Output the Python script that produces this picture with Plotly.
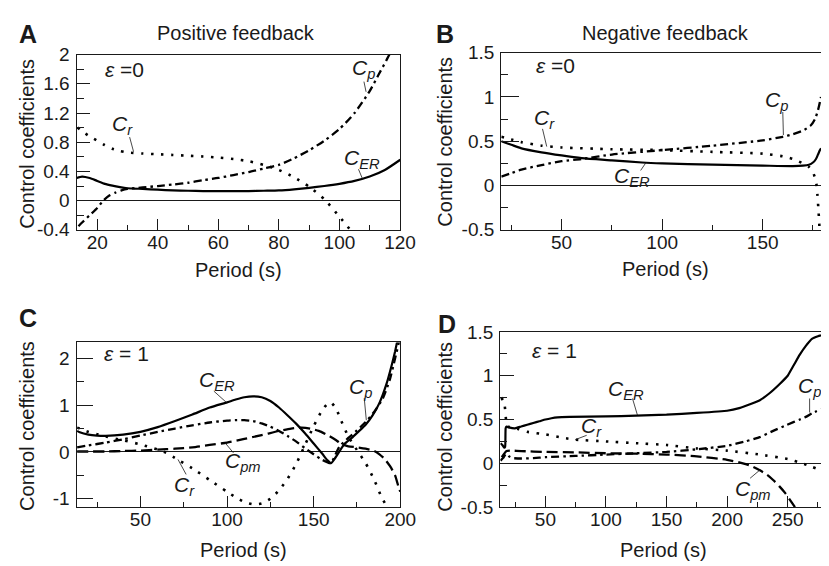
import plotly.graph_objects as go

W, H = 829, 566
FONT = "Liberation Sans, Arial, Helvetica, sans-serif"
INK = "#1a1a1a"

# ---------------- data ----------------
# Panel A: positive feedback, eps = 0
a_er_x = [13.2, 15, 17.5, 20, 22.5, 25, 27.5, 30, 35, 40, 45, 50, 55, 60, 65, 70, 75, 80, 85, 90, 95, 100, 105, 110, 115, 120.1]
a_er_y = [0.31, 0.33, 0.31, 0.27, 0.23, 0.205, 0.185, 0.17, 0.16, 0.15, 0.14, 0.135, 0.13, 0.13, 0.13, 0.13, 0.135, 0.14, 0.155, 0.175, 0.2, 0.23, 0.27, 0.33, 0.42, 0.56]
a_p_x = [13.8, 15, 17.5, 20, 22, 24, 26, 28, 30, 35, 40, 45, 50, 55, 60, 65, 70, 75, 80, 85, 90, 95, 100, 105, 110, 113, 116.5, 117.5]
a_p_y = [-0.35, -0.3, -0.2, -0.1, 0.0, 0.07, 0.11, 0.14, 0.16, 0.18, 0.2, 0.22, 0.245, 0.28, 0.31, 0.35, 0.39, 0.44, 0.49, 0.58, 0.69, 0.82, 0.98, 1.2, 1.5, 1.73, 2.0, 2.1]
a_r_x = [13.5, 15, 17.5, 20, 22.5, 25, 27.5, 30, 35, 40, 45, 50, 55, 60, 65, 70, 75, 80, 85, 90, 95, 100, 104]
a_r_y = [1.0, 0.95, 0.88, 0.82, 0.76, 0.71, 0.68, 0.66, 0.645, 0.635, 0.625, 0.615, 0.605, 0.59, 0.57, 0.54, 0.49, 0.42, 0.32, 0.19, 0.02, -0.22, -0.42]

# Panel B: negative feedback, eps = 0
b_er_x = [20, 25, 30, 40, 50, 60, 75, 90, 100, 125, 150, 165, 170, 173, 175, 176.5, 177.5, 178.5, 179]
b_er_y = [0.5, 0.46, 0.42, 0.375, 0.34, 0.31, 0.285, 0.26, 0.25, 0.235, 0.225, 0.22, 0.225, 0.235, 0.26, 0.3, 0.35, 0.4, 0.42]
b_p_x = [20, 25, 30, 40, 50, 60, 75, 100, 125, 150, 160, 165, 170, 174, 176, 177.5, 179]
b_p_y = [0.1, 0.14, 0.18, 0.23, 0.275, 0.30, 0.35, 0.4, 0.45, 0.51, 0.55, 0.58, 0.62, 0.68, 0.75, 0.85, 1.0]
b_r_x = [20, 25, 30, 40, 50, 75, 100, 125, 150, 160, 165, 170, 173, 175, 176.5, 177.2, 177.8, 178.3]
b_r_y = [0.55, 0.52, 0.49, 0.45, 0.43, 0.41, 0.4, 0.38, 0.36, 0.33, 0.30, 0.25, 0.21, 0.15, 0.05, -0.1, -0.3, -0.5]

# Panel C: positive feedback, eps = 1
c_er_x = [13.5, 15, 20, 25, 30, 40, 50, 60, 70, 80, 90, 100, 105, 110, 115, 120, 125, 130, 135, 140, 145, 150, 155, 158, 160, 162, 165, 168, 172, 176, 180, 184, 188, 192, 195, 197, 199, 200]
c_er_y = [0.45, 0.42, 0.37, 0.35, 0.345, 0.37, 0.43, 0.53, 0.66, 0.8, 0.95, 1.06, 1.12, 1.17, 1.19, 1.17, 1.09, 0.95, 0.78, 0.6, 0.4, 0.18, -0.04, -0.18, -0.24, -0.15, 0.02, 0.18, 0.3, 0.44, 0.58, 0.78, 1.05, 1.45, 1.85, 2.15, 2.5, 2.7]
c_p_x = [13.5, 20, 30, 40, 50, 60, 70, 80, 90, 100, 105, 110, 115, 120, 125, 130, 135, 140, 145, 150, 155, 160, 162, 165, 170, 175, 180, 185, 190, 194, 197, 199.5, 200]
c_p_y = [0.1, 0.14, 0.2, 0.27, 0.35, 0.43, 0.5, 0.57, 0.63, 0.67, 0.68, 0.68, 0.66, 0.61, 0.54, 0.45, 0.34, 0.22, 0.08, -0.05, -0.17, -0.24, -0.1, 0.12, 0.3, 0.46, 0.64, 0.86, 1.15, 1.55, 2.0, 2.4, 2.6]
c_pm_x = [13.5, 20, 30, 40, 50, 60, 70, 80, 90, 100, 110, 120, 130, 137, 143, 148, 153, 157, 160, 163, 166, 170, 175, 180, 185, 188, 191, 194, 197, 199, 200]
c_pm_y = [0.01, 0.01, 0.01, 0.02, 0.03, 0.05, 0.07, 0.1, 0.15, 0.2, 0.28, 0.36, 0.45, 0.5, 0.52, 0.5, 0.45, 0.38, 0.32, 0.25, 0.17, 0.12, 0.1, 0.07, 0.02, -0.05, -0.15, -0.3, -0.5, -0.75, -0.85]
c_r_x = [13.5, 15, 20, 25, 30, 40, 50, 60, 65, 70, 80, 90, 100, 105, 110, 115, 120, 125, 130, 135, 140, 145, 150, 155, 158, 160, 163, 166, 170, 175, 180, 185, 189, 192, 194]
c_r_y = [0.52, 0.5, 0.43, 0.38, 0.33, 0.25, 0.16, 0.05, -0.02, -0.13, -0.35, -0.6, -0.85, -0.97, -1.07, -1.12, -1.1, -1.0, -0.82, -0.57, -0.25, 0.15, 0.55, 0.9, 1.03, 1.06, 0.92, 0.66, 0.33, 0.04, -0.24, -0.6, -0.95, -1.15, -1.25]

# Panel D: negative feedback, eps = 1
d_er_x = [13, 14.5, 16, 16.8, 17.2, 18, 20, 25, 30, 35, 40, 45, 50, 55, 60, 70, 100, 125, 150, 175, 200, 210, 220, 227, 235, 243, 250, 255, 260, 265, 270, 275, 277.5]
d_er_y = [0.23, 0.21, 0.18, 0.19, 0.40, 0.42, 0.41, 0.40, 0.42, 0.44, 0.46, 0.48, 0.5, 0.515, 0.525, 0.53, 0.535, 0.545, 0.555, 0.575, 0.6, 0.63, 0.68, 0.72, 0.8, 0.9, 1.0, 1.12, 1.24, 1.34, 1.42, 1.45, 1.46]
d_p_x = [13, 15, 17, 18, 20, 23, 30, 40, 50, 75, 100, 125, 150, 175, 200, 215, 227, 238, 249.5, 260, 265, 270, 277.5]
d_p_y = [0.03, 0.06, 0.1, 0.11, 0.08, 0.06, 0.055, 0.06, 0.07, 0.085, 0.1, 0.115, 0.13, 0.16, 0.2, 0.25, 0.3, 0.37, 0.44, 0.5, 0.53, 0.57, 0.62]
d_pm_x = [14, 16, 18, 22, 30, 50, 75, 100, 125, 150, 175, 200, 213, 220, 227, 233, 238, 243, 248, 252, 256]
d_pm_y = [0.07, 0.11, 0.14, 0.145, 0.14, 0.13, 0.125, 0.115, 0.11, 0.1, 0.08, 0.04, 0.0, -0.03, -0.08, -0.13, -0.19, -0.26, -0.34, -0.42, -0.5]
d_r_x = [13.5, 15, 16.5, 17.5, 18.5, 22, 28, 35, 50, 65, 75, 100, 125, 150, 175, 200, 227, 250, 262, 270, 277.5]
d_r_y = [0.75, 0.72, 0.65, 0.5, 0.42, 0.41, 0.39, 0.36, 0.33, 0.29, 0.27, 0.25, 0.23, 0.21, 0.17, 0.145, 0.1, 0.05, 0.0, -0.04, -0.08]

# tick labels
a_xticks = [20, 40, 60, 80, 100, 120]
a_yticks = [-0.4, 0, 0.4, 0.8, 1.2, 1.6, 2]
a_ylabels = ["-0.4", "0", "0.4", "0.8", "1.2", "1.6", "2"]
b_xticks = [50, 100, 150]
b_yticks = [-0.5, 0, 0.5, 1, 1.5]
b_ylabels = ["-0.5", "0", "0.5", "1", "1.5"]
c_xticks = [50, 100, 150, 200]
c_yticks = [-1, 0, 1, 2]
c_ylabels = ["-1", "0", "1", "2"]
d_xticks = [50, 100, 150, 200, 250]
d_yticks = [-0.5, 0, 0.5, 1, 1.5]
d_ylabels = ["-0.5", "0", "0.5", "1", "1.5"]

# ---------------- styles ----------------
SOLID = dict(color="black", width=2.2, dash="solid")
DASHDOT = dict(color="black", width=2.3, dash="8px,4px,2.5px,4px")
DOT = dict(color="black", width=2.6, dash="2.5px,7.5px")
DASH = dict(color="black", width=2.3, dash="11px,5px")

TICKSIZE = 19
TITLESIZE = 20
LABELSIZE = 21

fig = go.Figure()


def add(xs, ys, line, ax, smooth=0.6):
    if smooth:
        ln = dict(**line, shape="spline", smoothing=smooth)
    else:
        ln = dict(**line)
    fig.add_trace(go.Scatter(x=xs, y=ys, mode="lines", line=ln,
                             xaxis="x" + ax, yaxis="y" + ax, hoverinfo="skip"))


add(a_er_x, a_er_y, SOLID, "")
add(a_p_x, a_p_y, DASHDOT, "")
add(a_r_x, a_r_y, DOT, "")
add(b_er_x, b_er_y, SOLID, "2")
add(b_p_x, b_p_y, DASHDOT, "2")
add(b_r_x, b_r_y, DOT, "2")
add(c_er_x, c_er_y, SOLID, "3", 0.5)
add(c_p_x, c_p_y, DASHDOT, "3", 0.5)
add(c_pm_x, c_pm_y, DASH, "3")
add(c_r_x, c_r_y, DOT, "3")
add(d_er_x, d_er_y, SOLID, "4", 0.35)
add(d_p_x, d_p_y, DASHDOT, "4", 0.35)
add(d_pm_x, d_pm_y, DASH, "4")
add(d_r_x, d_r_y, DOT, "4", 0.35)


def px(v):
    return v / W


def py(v):
    return 1 - v / H


def xax(dom, rng, ticks, minor_dt, anchor):
    return dict(domain=[px(dom[0]), px(dom[1])], range=rng, anchor=anchor,
                tickmode="array", tickvals=ticks, ticktext=[str(t) for t in ticks],
                ticks="inside", ticklen=11, tickwidth=1.2, tickcolor=INK,
                minor=dict(tickmode="linear", tick0=0, dtick=minor_dt, ticks="inside", ticklen=5, tickwidth=1.2, tickcolor=INK),
                showline=True, linecolor=INK, linewidth=1.3, mirror=True,
                showgrid=False, zeroline=False,
                tickfont=dict(size=TICKSIZE, color=INK, family=FONT), ticklabelstandoff=-5)


def yax(dom, rng, ticks, labels, minor_dt, anchor, mirror, tlen=15):
    return dict(domain=[py(dom[1]), py(dom[0])], range=rng, anchor=anchor,
                tickmode="array", tickvals=ticks, ticktext=labels,
                ticks="inside", ticklen=tlen, tickwidth=1.2, tickcolor=INK,
                minor=dict(tickmode="linear", tick0=0, dtick=minor_dt, ticks="inside", ticklen=7, tickwidth=1.2, tickcolor=INK),
                showline=True, linecolor=INK, linewidth=1.3, mirror=mirror,
                showgrid=False, zeroline=True, zerolinecolor=INK, zerolinewidth=1.2,
                tickfont=dict(size=TICKSIZE, color=INK, family=FONT), ticklabelstandoff=2)


fig.update_layout(
    width=W, height=H, margin=dict(l=0, r=0, t=0, b=0),
    paper_bgcolor="white", plot_bgcolor="white", showlegend=False,
    font=dict(family=FONT, color=INK),
    xaxis=xax((70, 400), [13.2, 120.1], a_xticks, 10, "y"),
    yaxis=yax((38, 220), [-0.4, 2.0], a_yticks, a_ylabels, 0.2, "x", True, 13),
    xaxis2=xax((503, 829), [20, 179], b_xticks, 25, "y2"),
    yaxis2=yax((36, 220), [-0.5, 1.5], b_yticks, b_ylabels, 0.25, "x2", False, 18),
    xaxis3=xax((70, 400), [13.2, 200], c_xticks, 25, "y3"),
    yaxis3=yax((337, 508), [-1.18, 2.34], c_yticks, c_ylabels, 0.5, "x3", True, 16),
    xaxis4=xax((502, 829), [12.8, 277.5], d_xticks, 25, "y4"),
    yaxis4=yax((326, 508), [-0.5, 1.5], d_yticks, d_ylabels, 0.25, "x4", False, 14),
)

ann = []
shapes = []


def ptext(x, y, text, size=TITLESIZE, angle=0, bold=False):
    ann.append(dict(x=px(x), y=py(y), xref="paper", yref="paper", text=("<b>%s</b>" % text) if bold else text,
                    showarrow=False, xanchor="center", yanchor="middle", textangle=angle,
                    font=dict(size=size, color=INK, family=FONT)))


# panel letters, titles, axis titles
ptext(20, 17, "A", 25, bold=True)
ptext(446, 17, "B", 25, bold=True)
ptext(20, 312, "C", 25, bold=True)
ptext(448, 318, "D", 25, bold=True)
ptext(232, 16, "Positive feedback")
ptext(670, 16, "Negative feedback")
for (x, y) in [(20, 131), (446, 128), (20, 424), (446, 424)]:
    ptext(x, y, "Control coefficients", size=20, angle=-90)
for (x, y) in [(235, 262), (670, 261), (240, 552), (668, 552)]:
    ptext(x, y, "Period (s)")


def dtext(ax, x, y, text, size=LABELSIZE):
    ann.append(dict(x=x, y=y, xref="x" + ax, yref="y" + ax, text=text, showarrow=False,
                    xanchor="center", yanchor="middle", font=dict(size=size, color=INK, family=FONT)))


def leader(ax, x0, y0, x1, y1):
    shapes.append(dict(type="line", xref="x" + ax, yref="y" + ax, x0=x0, y0=y0, x1=x1, y1=y1,
                       line=dict(color=INK, width=0.8)))


CR = "<i>C</i><sub><i>r</i></sub>"
CP = "<i>C</i><sub><i>p</i></sub>"
CER = "<i>C</i><sub><i>ER</i></sub>"
CPM = "<i>C</i><sub><i>pm</i></sub>"

# panel A
dtext("", 29, 1.8, "<i>ε</i> =0")
dtext("", 28.4, 1.03, CR)
leader("", 30.7, 0.87, 32.0, 0.67)
dtext("", 107.8, 1.8, CP)
leader("", 108.1, 1.63, 108.8, 1.49)
dtext("", 107.3, 0.57, CER)
leader("", 106.3, 0.43, 107.6, 0.3)
# panel B
dtext("2", 47, 1.35, "<i>ε</i> =0")
dtext("2", 41.3, 0.75, CR)
leader("2", 40.5, 0.64, 42.6, 0.44)
dtext("2", 156.7, 0.95, CP)
leader("2", 160, 0.83, 160.3, 0.57)
dtext("2", 85.2, 0.1, CER)
leader("2", 89.3, 0.17, 92, 0.26)
# panel C
dtext("3", 42, 2.11, "<i>ε</i> = 1")
dtext("3", 94.3, 1.51, CER)
leader("3", 92.4, 1.3, 99.6, 1.06)
dtext("3", 177.3, 1.37, CP)
leader("3", 179.2, 1.15, 180.4, 0.68)
dtext("3", 109.4, -0.22, CPM)
leader("3", 103.7, -0.02, 99, 0.19)
dtext("3", 75.4, -0.73, CR)
leader("3", 76.4, -0.48, 71.7, -0.16)
# panel D
dtext("4", 57.5, 1.29, "<i>ε</i> = 1")
dtext("4", 116.4, 0.84, CER)
leader("4", 121.9, 0.74, 126, 0.55)
dtext("4", 88.1, 0.41, CR)
leader("4", 84.1, 0.32, 74.6, 0.27)
dtext("4", 267.6, 0.87, CP)
leader("4", 268.1, 0.74, 268.1, 0.58)
dtext("4", 221.7, -0.3, CPM)
leader("4", 219, -0.17, 227.6, -0.07)

fig.update_layout(annotations=ann, shapes=shapes)
fig.write_html("out.html")
